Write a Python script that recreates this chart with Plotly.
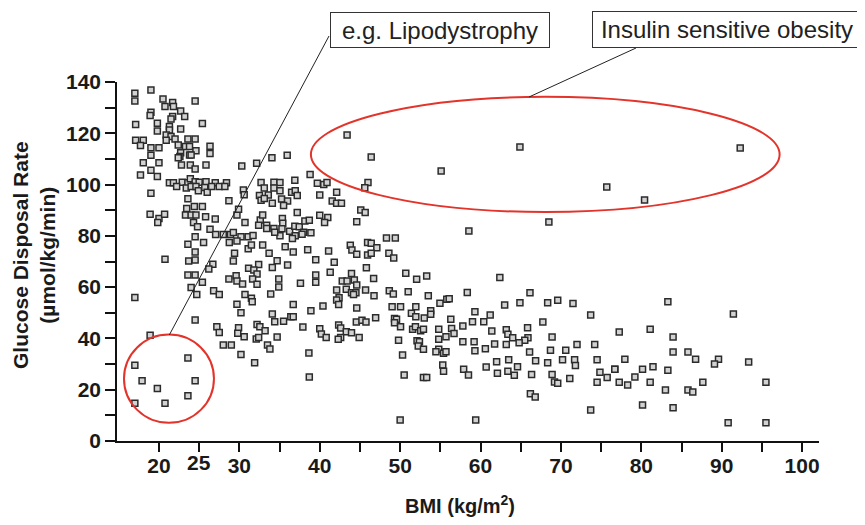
import plotly.graph_objects as go

# BMI (kg/m2) values
bmi = [
    19.0, 17.0, 17.0, 20.5, 21.7, 20.75, 21.8, 24.5, 19.0, 18.9, 22.7, 23.2, 21.7, 21.5, 17.1, 19.8,
    25.4, 21.3, 21.3, 22.7, 19.8, 20.9, 21.5, 22.0, 17.1, 18.05, 17.7, 20.9, 23.6, 24.5, 22.4, 23.3,
    23.8, 26.35, 19.0, 20.0, 24.6, 22.7, 22.6, 23.8, 24.0, 26.35, 19.0, 22.4, 18.05, 20.0, 22.8, 23.9,
    24.5, 25.85, 30.3, 19.0, 17.7, 19.8, 21.3, 21.8, 22.9, 23.6, 23.9, 24.5, 25.0, 25.85, 27.0, 28.4,
    22.2, 23.4, 24.0, 24.6, 24.9, 25.7, 26.0, 26.55, 27.5, 28.2, 19.0, 30.5, 30.6, 23.6, 28.7, 24.4,
    25.4, 23.45,
    18.9, 20.0, 20.7, 19.85, 23.3, 24.0, 24.6, 24.3, 24.8, 25.8, 27.0, 29.7, 29.9, 30.7, 26.35, 27.05,
    28.0, 28.9, 29.25, 30.2, 31.1, 24.5, 25.55, 23.6, 28.75, 29.7, 31.1, 24.5, 29.4, 20.75, 23.7, 24.5,
    26.7, 26.2, 29.25, 23.6, 24.5, 28.7, 29.6, 29.7, 30.4, 25.4, 24.0, 24.7, 26.8, 27.5, 30.7, 17.0,
    29.7, 30.2, 24.5, 27.2, 29.9,
    27.5, 29.8, 30.6, 28.0, 29.0, 30.2, 18.9, 17.0, 23.6, 17.9, 19.8, 24.5, 17.0, 20.75, 23.6,
    34.05, 35.95, 32.15, 38.8, 36.9, 32.7, 34.3, 35.05, 39.7, 40.5, 40.9, 33.1, 34.3, 35.05, 36.5, 36.95,
    42.1, 40.0, 32.5, 33.6, 32.7, 33.1, 35.25, 36.0, 37.2, 34.1, 35.5, 41.55, 42.1, 42.7, 37.2, 45.1,
    45.65, 32.6, 32.9, 32.4, 33.4, 34.3, 35.35, 35.4, 35.3, 36.25, 36.9, 37.45, 38.15, 38.7, 40.0, 41.0,
    40.6, 44.6, 38.0, 38.9, 37.8, 36.95, 36.6, 35.05, 34.4, 33.4, 31.7, 31.5, 32.9, 33.7, 35.7, 36.7,
    38.5, 41.1, 43.8, 44.0, 44.6, 45.95, 45.95, 34.7, 36.0, 39.5, 41.8, 32.4, 34.1,
    31.15, 31.8, 45.8, 32.2, 31.65, 32.2, 34.9, 34.9, 33.9, 37.6, 39.5, 39.5, 41.3, 43.95, 42.8, 43.4,
    44.3, 44.6, 42.1, 43.3, 43.95, 44.5, 44.2, 45.7, 31.5, 31.6, 42.4, 42.1, 42.35, 36.7, 40.4, 44.6,
    34.1, 34.4, 35.5, 36.4, 36.7, 38.9, 37.9, 32.2, 32.55, 33.2, 32.1, 32.4, 34.7, 40.0, 40.2, 40.8,
    42.35, 42.6, 43.3, 43.95, 44.9, 42.6, 42.3, 44.55, 45.25, 45.75, 33.5, 33.8, 38.65, 31.9,
    55.1, 46.0, 45.6, 46.4, 47.1, 46.4, 58.55, 48.3, 49.4, 48.6, 49.2, 46.7, 50.7, 52.05, 53.3,
    46.75, 48.65, 49.15, 51.0, 53.5, 54.95, 55.8, 56.1, 58.35, 59.3, 49.0, 50.05, 51.95, 51.4, 51.95, 53.8,
    53.8, 53.0, 46.95, 49.3, 49.55, 49.3, 50.05, 51.55, 51.9, 52.55, 52.9, 54.8, 56.4, 56.7, 56.3, 57.8,
    59.0, 55.7, 54.8, 57.8, 59.2, 49.8, 52.1, 52.4, 52.25, 52.9, 54.8, 54.45, 55.4, 55.7, 59.3, 50.3,
    55.3, 55.4, 57.9, 58.5, 50.5, 52.9, 53.3,
    62.4, 66.15, 63.0, 64.9, 68.35, 69.6, 71.5, 73.7, 61.2, 60.4, 67.75, 61.4, 63.2, 63.4, 64.0, 65.85,
    65.9, 65.5, 64.8, 68.9, 63.2, 61.75, 60.6, 66.1, 68.7, 70.6, 72.0, 74.2, 77.25, 62.0, 63.5, 64.6,
    60.7, 66.85, 68.35, 70.2, 71.7, 71.8, 74.5, 62.1, 63.4, 64.2, 66.35, 68.9, 69.2, 69.6, 71.1, 74.85,
    75.75, 76.7, 74.5, 77.25, 66.2, 66.8, 73.7, 59.4,
    83.3, 91.45, 81.1, 83.95, 77.95, 83.95, 85.8, 86.75, 89.6, 89.1, 93.35, 76.7, 80.15, 81.45, 83.3, 79.2,
    78.3, 81.1, 87.65, 95.5, 83.0, 85.8, 86.4, 80.15, 83.95, 90.8, 95.5,
    43.4, 46.4, 64.9, 75.7, 68.5, 92.3, 80.4, 38.7, 50.0,
]

# Glucose disposal rate (umol/kg/min) values
gdr = [
    136.9, 135.6, 132.6, 133.4, 132.0, 130.4, 130.4, 132.6, 128.2, 126.9, 128.7, 126.5, 126.5, 125.6, 123.4, 123.9,
    123.8, 122.6, 121.3, 121.7, 120.9, 119.3, 118.7, 117.8, 117.3, 117.3, 115.2, 117.3, 117.8, 117.8, 115.4, 114.8,
    114.8, 114.9, 114.4, 114.4, 113.2, 112.4, 110.9, 111.5, 111.5, 112.1, 111.4, 110.5, 108.5, 108.5, 107.6, 107.6,
    106.1, 107.6, 107.2, 105.6, 103.7, 103.1, 100.7, 100.7, 100.9, 100.7, 102.3, 101.1, 100.9, 101.1, 100.7, 100.7,
    99.2, 98.7, 99.2, 99.2, 97.6, 98.9, 97.0, 99.2, 99.2, 99.2, 96.6, 97.9, 96.0, 94.5, 93.7, 91.4,
    91.4, 90.7,
    88.4, 86.8, 88.4, 85.2, 88.1, 88.1, 88.1, 85.2, 83.6, 87.5, 86.6, 88.1, 90.4, 85.2, 82.6, 80.5,
    80.5, 80.5, 81.3, 79.7, 79.7, 79.7, 77.4, 76.7, 77.4, 78.0, 75.0, 73.7, 73.2, 70.9, 70.2, 70.6,
    68.9, 67.1, 70.2, 64.7, 64.7, 63.2, 64.4, 62.4, 61.2, 61.9, 59.9, 57.1, 58.6, 57.1, 57.1, 56.0,
    53.3, 50.0, 47.2, 44.6, 44.2,
    42.3, 42.0, 40.7, 37.4, 37.4, 33.7, 41.2, 29.5, 32.4, 23.5, 20.5, 23.5, 14.7, 14.7, 17.6,
    110.5, 111.4, 108.3, 103.9, 101.7, 100.8, 100.9, 100.8, 100.5, 100.0, 100.8, 98.7, 98.7, 97.6, 97.0, 97.6,
    97.0, 95.9, 95.7, 95.9, 93.9, 94.6, 94.4, 93.6, 95.7, 92.7, 91.8, 93.6, 92.7, 92.7, 89.1, 90.1,
    89.1, 86.2, 88.1, 84.1, 84.1, 82.9, 86.8, 84.9, 82.8, 81.8, 83.7, 83.6, 85.8, 86.1, 88.0, 87.2,
    85.2, 85.5, 81.4, 81.25, 80.6, 80.0, 79.0, 80.0, 81.4, 82.9, 80.1, 76.4, 76.4, 73.2, 75.8, 73.7,
    74.6, 74.1, 76.3, 74.5, 72.8, 77.4, 72.5, 70.3, 68.6, 70.7, 69.7, 68.8, 67.7,
    67.35, 66.7, 67.6, 65.1, 63.2, 61.1, 63.2, 60.1, 57.3, 61.5, 64.75, 61.9, 65.8, 65.3, 62.4, 62.4,
    62.8, 60.85, 58.9, 59.2, 57.85, 57.85, 57.1, 58.9, 55.65, 54.35, 55.9, 55.0, 53.2, 53.2, 52.65, 51.9,
    49.5, 46.55, 46.7, 48.5, 48.5, 50.8, 44.5, 45.4, 44.6, 43.0, 39.8, 40.4, 40.6, 43.8, 41.7, 40.4,
    45.2, 44.1, 42.6, 42.25, 40.4, 40.4, 39.65, 46.4, 47.1, 46.4, 37.45, 35.9, 34.3, 30.55,
    105.3, 100.8, 98.8, 77.1, 75.4, 73.2, 81.9, 79.2, 79.2, 73.2, 71.4, 63.4, 65.4, 63.05, 64.35,
    56.6, 58.6, 57.3, 58.25, 56.6, 53.7, 55.25, 55.5, 57.9, 50.45, 52.4, 52.4, 52.4, 49.8, 48.5, 50.8,
    49.4, 48.0, 48.1, 47.8, 47.45, 46.15, 44.6, 43.55, 44.6, 43.0, 43.55, 43.55, 43.9, 41.9, 47.45, 44.85,
    46.5, 40.7, 39.65, 38.75, 38.75, 39.3, 39.1, 38.75, 37.05, 35.75, 35.75, 34.85, 34.2, 34.85, 35.2, 33.5,
    29.6, 27.2, 27.95, 25.7, 25.7, 24.8, 24.8,
    63.8, 57.85, 53.05, 53.95, 53.95, 54.85, 53.6, 49.15, 49.15, 46.55, 46.4, 42.9, 43.4, 41.6, 40.3, 44.2,
    40.3, 39.3, 38.35, 40.55, 37.6, 37.85, 36.0, 34.7, 35.35, 35.35, 37.6, 37.6, 42.5, 30.9, 31.7, 29.0,
    28.9, 31.3, 30.55, 31.7, 31.7, 29.4, 31.7, 26.4, 27.2, 25.6, 25.9, 25.9, 23.0, 22.5, 24.4, 26.8,
    24.8, 27.95, 22.9, 22.9, 18.45, 17.15, 12.1, 8.2,
    54.35, 49.5, 43.55, 40.6, 31.85, 34.7, 34.7, 31.85, 31.85, 30.0, 30.8, 28.0, 28.0, 29.0, 27.6, 25.0,
    21.85, 22.9, 22.9, 22.9, 19.9, 19.9, 19.1, 14.0, 13.0, 7.15, 7.15,
    119.3, 110.8, 114.7, 99.1, 85.4, 114.3, 94.0, 25.0, 8.2,
]

x_ticks = [20, 25, 30, 35, 40, 45, 50, 55, 60, 65, 70, 75, 80, 85, 90, 95, 100]
x_tick_labels = ["20", "", "30", "", "40", "", "50", "", "60", "", "70", "", "80", "", "90", "", "100"]
raised_label = "25"          # drawn a little higher than the other x tick labels
y_ticks = [0, 10, 20, 30, 40, 50, 60, 70, 80, 90, 100, 110, 120, 130, 140]
y_tick_labels = ["0", "", "20", "", "40", "", "60", "", "80", "", "100", "", "120", "", "140"]

FONT = "Liberation Sans, Arial, sans-serif"
W, H = 865, 525
OFF = 8                      # page body margin of the exported html
SX0, SX1 = 117, 819          # plot area on screen (x)
SY0, SY1 = 82, 441           # plot area on screen (y)
PW, PH = SX1 - SX0, SY1 - SY0
L, T = SX0 - OFF, SY0 - OFF
R, B = W - (SX1 - OFF), H - (SY1 - OFF)


def px(xs):
    return (xs - SX0) / PW


def py(ys):
    return (SY1 - ys) / PH


fig = go.Figure(
    go.Scatter(
        x=bmi, y=gdr, mode="markers",
        marker=dict(symbol="square", size=6, color="#d2d2d2",
                    line=dict(color="#2b2b2b", width=1.5)),
        hoverinfo="x+y", showlegend=False, cliponaxis=False,
    )
)

tick_font = dict(family=FONT, size=21, color="#1a1a1a", weight="bold")
axis_common = dict(
    showline=True, linecolor="#111", linewidth=1.5, ticks="outside", tickwidth=1.5,
    tickcolor="#111", showgrid=False, zeroline=False, tickfont=tick_font,
)

box = dict(showarrow=False, bordercolor="#333", borderwidth=1, borderpad=0, bgcolor="white",
           xref="paper", yref="paper", xanchor="center", yanchor="middle",
           font=dict(family=FONT, size=24, color="#222"))

fig.update_layout(
    width=W, height=H, margin=dict(l=L, r=R, t=T, b=B),
    paper_bgcolor="white", plot_bgcolor="white",
    xaxis=dict(range=[14.78, 102.1], tickvals=x_ticks, ticktext=x_tick_labels,
               ticklen=9, ticklabelstandoff=-4, **axis_common),
    yaxis=dict(range=[0, 140], tickvals=y_ticks, ticktext=y_tick_labels,
               ticklen=10, **axis_common),
    shapes=[
        dict(type="circle", xref="x", yref="y", x0=38.9, x1=97.2, y0=89.3, y1=134.2,
             line=dict(color="#e3342b", width=2)),
        dict(type="circle", xref="x", yref="y", x0=15.65, x1=26.84, y0=7.1, y1=41.5,
             line=dict(color="#e3342b", width=2)),
        dict(type="line", xref="paper", yref="paper", x0=px(329), y0=py(36), x1=px(169.3), y1=py(335),
             line=dict(color="#222", width=1)),
        dict(type="line", xref="paper", yref="paper", x0=px(636), y0=py(48), x1=px(529), y1=py(97),
             line=dict(color="#222", width=1)),
    ],
    annotations=[
        dict(text="e.g. Lipodystrophy", x=px(440), y=py(30), width=218, height=34, **box),
        dict(text="Insulin sensitive obesity", x=px(727), y=py(29.5), width=268, height=35, **box),
        dict(text=raised_label, xref="x", yref="paper", x=25, y=py(462), xanchor="center",
             yanchor="middle", showarrow=False, font=tick_font),
        dict(text="Glucose Disposal Rate<br>(µmol/kg/min)", xref="paper", yref="paper",
             x=px(34), y=py(255), xanchor="center", yanchor="middle", textangle=-90,
             showarrow=False,
             font=dict(family=FONT, size=21, color="#1a1a1a", weight="bold")),
        dict(text="BMI (kg/m<sup>2</sup>)", xref="paper", yref="paper", x=px(460), y=py(504),
             xanchor="center", yanchor="middle", showarrow=False,
             font=dict(family=FONT, size=20, color="#1a1a1a", weight="bold")),
    ],
)

fig.write_html("out.html")
